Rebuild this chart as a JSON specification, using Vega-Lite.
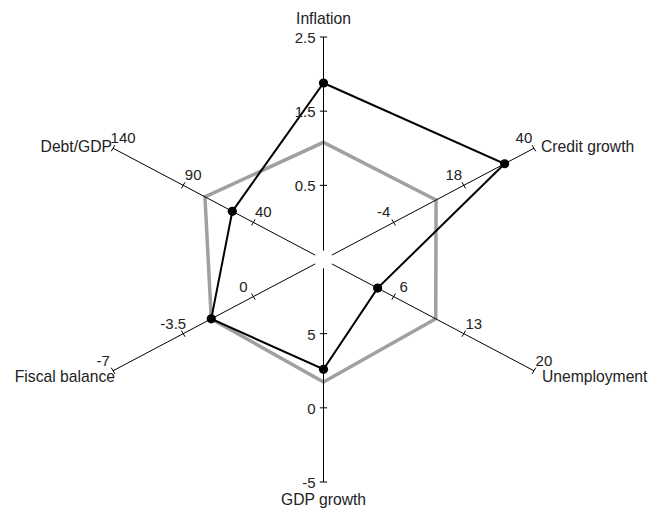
{
  "$schema": "https://vega.github.io/schema/vega-lite/v6.json",
  "width": 651,
  "height": 512,
  "autosize": {"type": "fit", "contains": "padding"},
  "padding": 0,
  "background": "white",
  "config": {
    "view": {"stroke": null},
    "text": {"font": "Liberation Sans", "fontSize": 15, "color": "#222222"}
  },
  "datasets": {
    "axes": [
      {"axis": "Inflation", "idx": 0, "min": -0.5, "max": 2.5},
      {"axis": "Credit growth", "idx": 1, "min": -26, "max": 40},
      {"axis": "Unemployment", "idx": 2, "min": -1, "max": 20},
      {"axis": "GDP growth", "idx": 3, "min": 10, "max": -5},
      {"axis": "Fiscal balance", "idx": 4, "min": 3.5, "max": -7},
      {"axis": "Debt/GDP", "idx": 5, "min": -10, "max": 140}
    ],
    "ticks": [
      {"axis": "Inflation", "value": 0.5}, {"axis": "Inflation", "value": 1.5}, {"axis": "Inflation", "value": 2.5},
      {"axis": "Credit growth", "value": -4}, {"axis": "Credit growth", "value": 18}, {"axis": "Credit growth", "value": 40},
      {"axis": "Unemployment", "value": 6}, {"axis": "Unemployment", "value": 13}, {"axis": "Unemployment", "value": 20},
      {"axis": "GDP growth", "value": 5}, {"axis": "GDP growth", "value": 0}, {"axis": "GDP growth", "value": -5},
      {"axis": "Fiscal balance", "value": 0}, {"axis": "Fiscal balance", "value": -3.5}, {"axis": "Fiscal balance", "value": -7},
      {"axis": "Debt/GDP", "value": 40}, {"axis": "Debt/GDP", "value": 90}, {"axis": "Debt/GDP", "value": 140}
    ],
    "values": [
      {"series": "Current", "axis": "Inflation", "value": 1.88},
      {"series": "Current", "axis": "Credit growth", "value": 30.8},
      {"series": "Current", "axis": "Unemployment", "value": 4.4},
      {"series": "Current", "axis": "GDP growth", "value": 2.6},
      {"series": "Current", "axis": "Fiscal balance", "value": -2.1},
      {"series": "Current", "axis": "Debt/GDP", "value": 55},
      {"series": "Average", "axis": "Inflation", "value": 1.08},
      {"series": "Average", "axis": "Credit growth", "value": 9.3},
      {"series": "Average", "axis": "Unemployment", "value": 10.2},
      {"series": "Average", "axis": "GDP growth", "value": 1.74},
      {"series": "Average", "axis": "Fiscal balance", "value": -2.1},
      {"series": "Average", "axis": "Debt/GDP", "value": 74.5}
    ]
  },
  "encoding": {
    "x": {"field": "px", "type": "quantitative", "scale": {"domain": [-1.3313, 1.3477], "nice": false, "zero": false}, "axis": null},
    "y": {"field": "py", "type": "quantitative", "scale": {"domain": [-1.1348, 1.1663], "nice": false, "zero": false}, "axis": null}
  },
  "layer": [
    {
      "data": {"name": "values"},
      "transform": [
        {"filter": "datum.series === 'Average'"},
        {"lookup": "axis", "from": {"data": {"name": "axes"}, "key": "axis", "fields": ["idx", "min", "max"]}},
        {"calculate": "(datum.value - datum.min) / (datum.max - datum.min)", "as": "r"},
        {"calculate": "PI / 2 - datum.idx * PI / 3", "as": "th"},
        {"calculate": "datum.r * cos(datum.th)", "as": "px"},
        {"calculate": "datum.r * sin(datum.th)", "as": "py"}
      ],
      "mark": {"type": "line", "interpolate": "linear-closed", "color": "#a0a0a0", "strokeWidth": 3.5},
      "encoding": {"order": {"field": "idx", "type": "quantitative"}}
    },
    {
      "data": {"name": "axes"},
      "transform": [
        {"calculate": "PI / 2 - datum.idx * PI / 3", "as": "th"},
        {"calculate": "0.04 * cos(datum.th)", "as": "px"},
        {"calculate": "0.04 * sin(datum.th)", "as": "py"},
        {"calculate": "cos(datum.th)", "as": "px2"},
        {"calculate": "sin(datum.th)", "as": "py2"}
      ],
      "mark": {"type": "rule", "color": "#000000", "strokeWidth": 1},
      "encoding": {"x2": {"field": "px2"}, "y2": {"field": "py2"}}
    },
    {
      "data": {"name": "ticks"},
      "transform": [
        {"lookup": "axis", "from": {"data": {"name": "axes"}, "key": "axis", "fields": ["idx", "min", "max"]}},
        {"calculate": "(datum.value - datum.min) / (datum.max - datum.min)", "as": "r"},
        {"calculate": "PI / 2 - datum.idx * PI / 3", "as": "th"},
        {"calculate": "datum.r * cos(datum.th) + 0.015 * sin(datum.th)", "as": "px"},
        {"calculate": "datum.r * sin(datum.th) - 0.016 * cos(datum.th)", "as": "py"},
        {"calculate": "datum.r * cos(datum.th) - 0.015 * sin(datum.th)", "as": "px2"},
        {"calculate": "datum.r * sin(datum.th) + 0.016 * cos(datum.th)", "as": "py2"}
      ],
      "mark": {"type": "rule", "color": "#000000", "strokeWidth": 1},
      "encoding": {"x2": {"field": "px2"}, "y2": {"field": "py2"}}
    },
    {
      "data": {"name": "values"},
      "transform": [
        {"filter": "datum.series === 'Current'"},
        {"lookup": "axis", "from": {"data": {"name": "axes"}, "key": "axis", "fields": ["idx", "min", "max"]}},
        {"calculate": "(datum.value - datum.min) / (datum.max - datum.min)", "as": "r"},
        {"calculate": "PI / 2 - datum.idx * PI / 3", "as": "th"},
        {"calculate": "datum.r * cos(datum.th)", "as": "px"},
        {"calculate": "datum.r * sin(datum.th)", "as": "py"}
      ],
      "layer": [
        {
          "mark": {"type": "line", "interpolate": "linear-closed", "color": "#000000", "strokeWidth": 2},
          "encoding": {"order": {"field": "idx", "type": "quantitative"}}
        },
        {
          "mark": {"type": "point", "filled": true, "color": "#000000", "opacity": 1, "size": 85}
        }
      ]
    },
    {
      "data": {"name": "ticks"},
      "transform": [
        {"lookup": "axis", "from": {"data": {"name": "axes"}, "key": "axis", "fields": ["idx", "min", "max"]}},
        {"calculate": "(datum.value - datum.min) / (datum.max - datum.min)", "as": "r"},
        {"calculate": "PI / 2 - datum.idx * PI / 3", "as": "th"},
        {"calculate": "datum.r * cos(datum.th)", "as": "px"},
        {"calculate": "datum.r * sin(datum.th)", "as": "py"}
      ],
      "layer": [
        {
          "transform": [{"filter": "datum.idx === 0 || datum.idx === 3"}],
          "mark": {"type": "text", "align": "right", "baseline": "middle", "dx": -8, "dy": 1},
          "encoding": {"text": {"field": "value", "type": "nominal"}}
        },
        {
          "transform": [{"filter": "datum.idx === 1 || datum.idx === 4"}],
          "mark": {"type": "text", "align": "center", "baseline": "middle", "dx": -10, "dy": -10},
          "encoding": {"text": {"field": "value", "type": "nominal"}}
        },
        {
          "transform": [{"filter": "datum.idx === 2 || datum.idx === 5"}],
          "mark": {"type": "text", "align": "center", "baseline": "middle", "dx": 10, "dy": -10},
          "encoding": {"text": {"field": "value", "type": "nominal"}}
        }
      ]
    },
    {
      "data": {"name": "axes"},
      "transform": [
        {"calculate": "PI / 2 - datum.idx * PI / 3", "as": "th"},
        {"calculate": "cos(datum.th)", "as": "px"},
        {"calculate": "sin(datum.th)", "as": "py"}
      ],
      "layer": [
        {
          "transform": [{"filter": "datum.idx === 0"}],
          "mark": {"type": "text", "align": "center", "baseline": "middle", "dy": -18, "fontSize": 15.7},
          "encoding": {"text": {"field": "axis", "type": "nominal"}}
        },
        {
          "transform": [{"filter": "datum.idx === 3"}],
          "mark": {"type": "text", "align": "center", "baseline": "middle", "dy": 18, "fontSize": 15.7},
          "encoding": {"text": {"field": "axis", "type": "nominal"}}
        },
        {
          "transform": [{"filter": "datum.idx === 1"}],
          "mark": {"type": "text", "align": "left", "baseline": "middle", "dx": 7, "dy": -1, "fontSize": 15.7},
          "encoding": {"text": {"field": "axis", "type": "nominal"}}
        },
        {
          "transform": [{"filter": "datum.idx === 2"}],
          "mark": {"type": "text", "align": "left", "baseline": "middle", "dx": 8, "dy": 6, "fontSize": 15.7},
          "encoding": {"text": {"field": "axis", "type": "nominal"}}
        },
        {
          "transform": [{"filter": "datum.idx === 4"}],
          "mark": {"type": "text", "align": "right", "baseline": "middle", "dx": 2, "dy": 6, "fontSize": 15.7},
          "encoding": {"text": {"field": "axis", "type": "nominal"}}
        },
        {
          "transform": [{"filter": "datum.idx === 5"}],
          "mark": {"type": "text", "align": "right", "baseline": "middle", "dx": -1, "dy": -1, "fontSize": 15.7},
          "encoding": {"text": {"field": "axis", "type": "nominal"}}
        }
      ]
    }
  ]
}
